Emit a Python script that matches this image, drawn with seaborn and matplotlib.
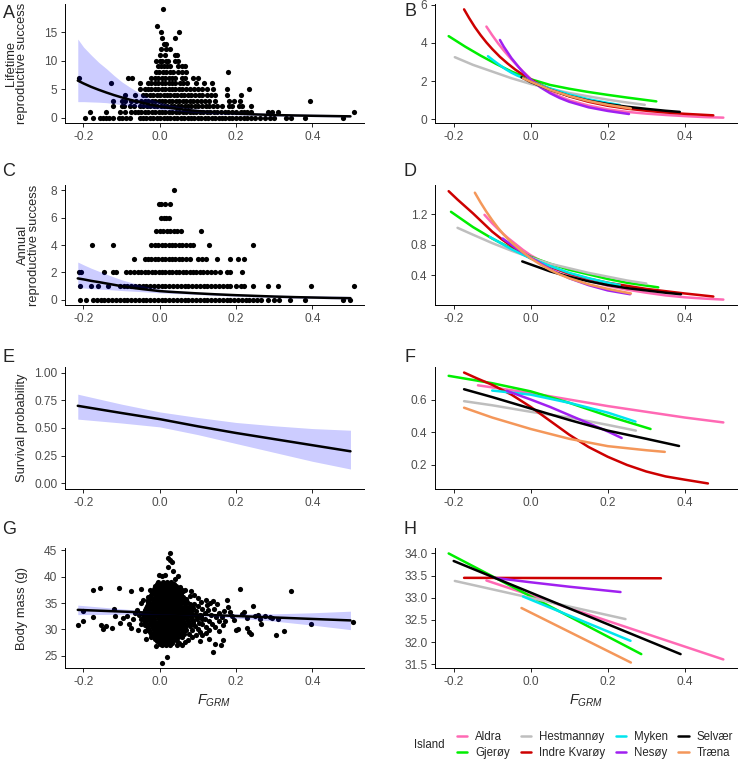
import matplotlib
matplotlib.use("Agg")
import matplotlib.pyplot as plt
from matplotlib.lines import Line2D
from matplotlib.ticker import FormatStrFormatter
import numpy as np
import pandas as pd
import seaborn as sns

sns.set_theme(style="ticks")
plt.rcParams["font.family"] = ["Liberation Sans", "DejaVu Sans"]
plt.rcParams["mathtext.fontset"] = "custom"
plt.rcParams["mathtext.rm"] = "Liberation Sans"
plt.rcParams["mathtext.it"] = "Liberation Sans:italic"

# ---------------- data ----------------
island_names = ["Aldra", "Gjerøy", "Hestmannøy", "Indre Kvarøy",
                "Myken", "Nesøy", "Selvær", "Træna"]
island_colors = ["#FF69B4", "#00EE00", "#BEBEBE", "#CD0000",
                 "#00E5EE", "#A020F0", "#000000", "#F4975A"]

# A: lifetime reproductive success, (count, F values)
lrs_rows = [
    (19, [0.009]),
    (16, [-0.006]),
    (15, [0.003, 0.05]),
    (14, [0.006, 0.039]),
    (13, [0.011, 0.017]),
    (12, [0.004, 0.016, 0.026]),
    (11, [0.0, 0.013, 0.039, 0.045]),
    (10, [-0.009, 0.0, 0.007, 0.016, 0.022, 0.039, 0.048]),
    (9, [-0.004, 0.003, 0.011, 0.018, 0.026, 0.048, 0.057, 0.066]),
    (8, [-0.009, -0.001, 0.008, 0.017, 0.026, 0.035, 0.048, 0.057, 0.068, 0.18]),
    (7, [-0.213, -0.083, -0.074, -0.022, -0.013, -0.004, 0.005, 0.014, 0.023,
         0.032, 0.041, 0.057, 0.066, 0.086, 0.1]),
    (6, [-0.129, -0.053, -0.031, -0.022, -0.013, -0.004, 0.005, 0.014, 0.023,
         0.032, 0.041, 0.053, 0.062, 0.071, 0.096, 0.115, 0.136]),
    (5, [-0.053, -0.04, -0.031, -0.022, -0.013, -0.004, 0.005, 0.014, 0.023,
         0.032, 0.041, 0.05, 0.059, 0.068, 0.079, 0.09, 0.1, 0.112, 0.125,
         0.14, 0.175, 0.235]),
    (4, [-0.092, -0.066, -0.044, -0.035, -0.026, -0.017, -0.008, 0.001, 0.01,
         0.019, 0.028, 0.037, 0.046, 0.055, 0.064, 0.073, 0.082, 0.092, 0.102,
         0.112, 0.123, 0.135, 0.146, 0.175, 0.214]),
    (3, [-0.123, -0.1, -0.092, -0.075, -0.062, -0.048, -0.039, -0.03, -0.021,
         -0.012, -0.003, 0.006, 0.015, 0.024, 0.033, 0.042, 0.051, 0.06, 0.069,
         0.078, 0.088, 0.098, 0.108, 0.118, 0.13, 0.145, 0.182, 0.195, 0.21,
         0.395]),
    (2, [-0.123, -0.1, -0.095, -0.078, -0.068, -0.052, -0.043, -0.034, -0.025,
         -0.016, -0.007, 0.002, 0.011, 0.02, 0.029, 0.038, 0.047, 0.056, 0.065,
         0.074, 0.083, 0.092, 0.101, 0.11, 0.12, 0.13, 0.14, 0.15, 0.162,
         0.182, 0.19, 0.208, 0.215, 0.24]),
    (1, [-0.184, -0.14, -0.105, -0.092, -0.075, -0.066, -0.057, -0.048, -0.039,
         -0.03, -0.021, -0.012, -0.003, 0.006, 0.015, 0.024, 0.033, 0.042,
         0.051, 0.06, 0.069, 0.078, 0.087, 0.096, 0.105, 0.114, 0.123, 0.132,
         0.141, 0.15, 0.16, 0.17, 0.18, 0.19, 0.2, 0.212, 0.22, 0.23, 0.24,
         0.284, 0.293, 0.31, 0.508]),
    (0, [-0.197, -0.175, -0.158, -0.15, -0.142, -0.133, -0.123, -0.108, -0.1,
         -0.088, -0.079, -0.053, -0.044, -0.035, -0.026, -0.017, -0.008, 0.001,
         0.01, 0.019, 0.028, 0.037, 0.046, 0.055, 0.064, 0.073, 0.082, 0.091,
         0.1, 0.109, 0.118, 0.127, 0.136, 0.145, 0.154, 0.163, 0.172, 0.181,
         0.19, 0.2, 0.21, 0.22, 0.23, 0.24, 0.25, 0.262, 0.275, 0.29, 0.3,
         0.33, 0.345, 0.38, 0.48]),
]

# C: annual reproductive success, (count, F values)
ars_rows = [
    (8, [0.038]),
    (7, [-0.002, 0.004, 0.013, 0.028]),
    (6, [0.004, 0.01, 0.017, 0.024]),
    (5, [-0.009, 0.0, 0.009, 0.018, 0.027, 0.036, 0.045, 0.055, 0.107]),
    (4, [-0.177, -0.123, -0.022, -0.013, -0.004, 0.005, 0.014, 0.023, 0.032,
         0.041, 0.05, 0.059, 0.07, 0.08, 0.088, 0.13, 0.245]),
    (3, [-0.067, -0.04, -0.031, -0.022, -0.013, -0.004, 0.005, 0.014, 0.023,
         0.032, 0.041, 0.05, 0.059, 0.068, 0.078, 0.1, 0.11, 0.12, 0.15,
         0.185, 0.205, 0.222]),
    (2, [-0.213, -0.206, -0.145, -0.123, -0.114, -0.088, -0.078, -0.068,
         -0.058, -0.048, -0.039, -0.03, -0.021, -0.012, -0.003, 0.006, 0.015,
         0.024, 0.033, 0.042, 0.051, 0.06, 0.069, 0.078, 0.087, 0.096, 0.105,
         0.114, 0.124, 0.134, 0.146, 0.158, 0.175, 0.184, 0.215]),
    (1, [-0.21, -0.18, -0.162, -0.136, -0.105, -0.095, -0.085, -0.075, -0.065,
         -0.055, -0.045, -0.035, -0.025, -0.015, -0.005, 0.005, 0.015, 0.025,
         0.035, 0.045, 0.055, 0.065, 0.075, 0.085, 0.095, 0.105, 0.115, 0.125,
         0.135, 0.145, 0.155, 0.165, 0.175, 0.185, 0.2, 0.212, 0.222, 0.245,
         0.285, 0.31, 0.397, 0.508]),
    (0, [-0.21, -0.193, -0.175, -0.165, -0.155, -0.145, -0.135, -0.125,
         -0.115, -0.105, -0.095, -0.085, -0.075, -0.065, -0.055, -0.045,
         -0.035, -0.025, -0.015, -0.005, 0.005, 0.015, 0.025, 0.035, 0.045,
         0.055, 0.065, 0.075, 0.085, 0.095, 0.105, 0.115, 0.125, 0.135, 0.145,
         0.155, 0.165, 0.175, 0.185, 0.195, 0.205, 0.215, 0.225, 0.235, 0.245,
         0.255, 0.265, 0.285, 0.3, 0.312, 0.342, 0.38, 0.48, 0.5]),
]

# G: body mass, scattered birds (F, g)
mass_pts = [
    (-0.215, 30.9), (-0.2, 31.5), (-0.2, 33.4), (-0.176, 37.5), (-0.176, 32.4),
    (-0.158, 37.9), (-0.153, 30.9), (-0.148, 30.0), (-0.14, 30.6), (-0.126, 30.3),
    (-0.12, 33.8), (-0.117, 32.6), (-0.108, 37.8), (-0.105, 31.3), (-0.096, 32.1),
    (-0.087, 32.5), (-0.08, 31.0), (-0.075, 37.3), (-0.075, 30.3), (-0.07, 31.9),
    (-0.065, 33.2), (-0.06, 33.7), (-0.058, 29.9), (-0.055, 32.8), (-0.05, 32.0),
    (-0.05, 31.0), (-0.048, 37.7), (-0.048, 35.0), (-0.044, 35.6), (-0.04, 29.6),
    (-0.035, 28.2), (-0.028, 34.6), (-0.022, 28.6), (-0.013, 35.6), (-0.009, 36.9),
    (-0.01, 26.9), (0.0, 27.2), (0.005, 23.7), (0.019, 24.8), (-0.045, 33.0),
    (-0.042, 31.8), (-0.038, 30.8), (-0.032, 36.2), (-0.03, 29.9), (-0.025, 37.5),
    (-0.002, 40.4), (0.005, 40.1), (0.013, 40.4), (0.022, 43.6), (0.026, 44.4),
    (0.028, 43.1), (0.032, 42.8), (0.022, 41.8), (0.035, 41.0), (0.048, 40.1),
    (0.04, 39.6), (0.053, 38.0), (0.058, 37.5), (0.062, 37.2), (0.066, 37.4),
    (0.083, 37.3), (0.044, 27.0), (0.05, 27.4), (0.058, 27.1), (0.066, 27.6),
    (0.075, 28.0), (0.085, 28.6), (0.105, 27.8), (0.11, 29.0), (0.13, 28.2),
    (0.14, 25.7), (0.145, 27.3), (0.16, 27.0), (0.07, 35.8), (0.078, 36.4),
    (0.09, 36.6), (0.1, 36.0), (0.108, 35.2), (0.12, 35.5), (0.125, 34.6),
    (0.132, 35.0), (0.14, 35.3), (0.15, 34.8), (0.09, 34.9), (0.1, 34.4),
    (0.112, 33.9), (0.118, 33.2), (0.126, 33.6), (0.135, 32.8), (0.142, 33.8),
    (0.148, 32.4), (0.155, 33.1), (0.162, 32.3), (0.168, 33.5), (0.108, 32.6),
    (0.118, 31.9), (0.128, 31.5), (0.138, 31.0), (0.146, 30.5), (0.155, 31.6),
    (0.165, 30.8), (0.172, 31.5), (0.112, 31.0), (0.122, 30.5), (0.13, 29.9),
    (0.1, 30.1), (0.105, 29.5), (0.12, 29.4), (0.095, 28.9), (0.155, 29.6),
    (0.165, 28.0), (0.175, 35.6), (0.18, 34.2), (0.185, 33.3), (0.19, 32.5),
    (0.195, 31.8), (0.2, 29.8), (0.205, 30.1), (0.21, 37.6), (0.215, 32.9),
    (0.22, 33.3), (0.228, 32.2), (0.23, 30.3), (0.235, 29.5), (0.24, 29.2),
    (0.245, 34.4), (0.25, 32.6), (0.258, 32.8), (0.262, 32.0), (0.265, 31.0),
    (0.275, 32.5), (0.29, 32.4), (0.295, 32.1), (0.31, 31.9), (0.306, 29.0),
    (0.325, 29.6), (0.345, 37.2), (0.397, 31.0), (0.506, 31.4),
]
# G: dense core of birds, (g, F values)
mass_core_rows = [
    (39.0, [-0.005, 0.008, 0.02, 0.03]),
    (38.65, [-0.008, 0.004, 0.015, 0.026, 0.037]),
    (38.3, [-0.012, 0.0, 0.01, 0.02, 0.032, 0.042]),
    (37.95, [-0.012, 0.0, 0.011, 0.021, 0.032, 0.043]),
    (37.6, [-0.015, -0.005, 0.006, 0.016, 0.027, 0.037, 0.048]),
    (37.25, [-0.018, -0.006, 0.005, 0.016, 0.027, 0.038, 0.05]),
    (36.9, [-0.02, -0.008, 0.003, 0.013, 0.024, 0.034, 0.045, 0.056]),
    (36.55, [-0.022, -0.01, 0.001, 0.012, 0.022, 0.033, 0.044, 0.056]),
    (36.2, [-0.025, -0.013, -0.002, 0.009, 0.019, 0.03, 0.04, 0.051, 0.062]),
    (35.85, [-0.027, -0.015, -0.003, 0.008, 0.019, 0.03, 0.04, 0.051, 0.063]),
    (35.5, [-0.03, -0.018, -0.006, 0.005, 0.015, 0.025, 0.036, 0.047, 0.058, 0.07]),
    (35.15, [-0.031, -0.019, -0.007, 0.004, 0.014, 0.025, 0.036, 0.047, 0.059, 0.071]),
    (34.8, [-0.032, -0.02, -0.009, 0.002, 0.012, 0.022, 0.033, 0.043, 0.054,
            0.066, 0.078]),
    (34.45, [-0.034, -0.022, -0.01, 0.001, 0.011, 0.021, 0.032, 0.043, 0.054,
             0.066, 0.079]),
    (34.1, [-0.036, -0.024, -0.012, -0.001, 0.009, 0.019, 0.03, 0.04, 0.05,
            0.061, 0.073, 0.086]),
    (33.75, [-0.038, -0.026, -0.014, -0.002, 0.008, 0.018, 0.029, 0.039, 0.05,
             0.062, 0.075]),
    (33.4, [-0.04, -0.028, -0.016, -0.004, 0.006, 0.016, 0.027, 0.037, 0.047,
            0.058, 0.07, 0.082, 0.095]),
    (33.05, [-0.041, -0.029, -0.017, -0.005, 0.005, 0.015, 0.026, 0.036, 0.047,
             0.058, 0.07, 0.083]),
    (32.7, [-0.042, -0.03, -0.018, -0.006, 0.004, 0.014, 0.024, 0.034, 0.045,
            0.056, 0.068, 0.08, 0.092, 0.105]),
    (32.35, [-0.041, -0.029, -0.017, -0.005, 0.005, 0.015, 0.026, 0.036, 0.047,
             0.058, 0.07, 0.083, 0.097]),
    (32.0, [-0.04, -0.027, -0.015, -0.003, 0.007, 0.017, 0.027, 0.037, 0.048,
            0.059, 0.071, 0.084, 0.098, 0.112]),
    (31.65, [-0.039, -0.026, -0.014, -0.002, 0.008, 0.018, 0.028, 0.038, 0.049,
             0.06, 0.073, 0.086]),
    (31.3, [-0.038, -0.025, -0.013, -0.002, 0.008, 0.018, 0.028, 0.039, 0.05,
            0.062, 0.075, 0.088, 0.102]),
    (30.95, [-0.036, -0.023, -0.011, -0.001, 0.009, 0.019, 0.029, 0.04, 0.051,
             0.063, 0.076]),
    (30.6, [-0.034, -0.021, -0.009, 0.001, 0.011, 0.021, 0.031, 0.042, 0.053,
            0.065, 0.078, 0.092]),
    (30.25, [-0.031, -0.018, -0.007, 0.003, 0.013, 0.023, 0.033, 0.044, 0.055,
             0.067]),
    (29.9, [-0.028, -0.016, -0.005, 0.005, 0.015, 0.025, 0.035, 0.046, 0.057,
            0.07, 0.084]),
    (29.55, [-0.025, -0.013, -0.002, 0.008, 0.018, 0.028, 0.038, 0.049, 0.06]),
    (29.2, [-0.022, -0.01, 0.0, 0.01, 0.02, 0.03, 0.04, 0.051, 0.063, 0.076]),
    (28.85, [-0.018, -0.007, 0.003, 0.013, 0.023, 0.033, 0.043, 0.054]),
    (28.5, [-0.015, -0.004, 0.006, 0.016, 0.026, 0.036, 0.047, 0.058]),
    (28.15, [-0.012, -0.001, 0.009, 0.019, 0.029, 0.039]),
    (27.8, [-0.008, 0.003, 0.013, 0.023, 0.033, 0.044]),
    (27.45, [0.0, 0.011, 0.022, 0.033]),
    (27.1, [0.005, 0.016, 0.027]),
]

# population-level model fits (F grid, fit, lower, upper)
count_fit_f = [-0.215, -0.2, -0.18, -0.16, -0.14, -0.12, -0.1, -0.075, -0.05, -0.025,
               0.0, 0.025, 0.05, 0.075, 0.1, 0.15, 0.2, 0.25, 0.3, 0.35, 0.4, 0.45, 0.5]
lrs_fit = [6.5, 6.0, 5.4, 4.88, 4.4, 3.95, 3.55, 3.08, 2.66, 2.28, 1.95, 1.7, 1.5,
           1.32, 1.15, 0.9, 0.7, 0.56, 0.45, 0.38, 0.32, 0.27, 0.22]
lrs_lo = [2.8, 2.8, 2.75, 2.7, 2.62, 2.45, 2.25, 2.05, 1.85, 1.65, 1.45, 1.3, 1.15,
          1.0, 0.88, 0.66, 0.48, 0.36, 0.28, 0.22, 0.17, 0.13, 0.1]
lrs_hi = [13.8, 12.4, 11.0, 9.7, 8.6, 7.4, 6.3, 5.2, 4.2, 3.3, 2.7, 2.25, 1.95, 1.7,
          1.5, 1.2, 1.0, 0.86, 0.75, 0.67, 0.6, 0.55, 0.5]

ars_fit = [1.55, 1.48, 1.37, 1.28, 1.18, 1.08, 0.98, 0.87, 0.78, 0.7, 0.62, 0.57,
           0.53, 0.49, 0.45, 0.38, 0.32, 0.27, 0.22, 0.18, 0.15, 0.12, 0.1]
ars_lo = [0.87, 0.85, 0.8, 0.77, 0.74, 0.7, 0.66, 0.62, 0.58, 0.54, 0.49, 0.46, 0.43,
          0.4, 0.37, 0.3, 0.24, 0.19, 0.15, 0.11, 0.08, 0.06, 0.04]
ars_hi = [2.75, 2.55, 2.3, 2.08, 1.86, 1.65, 1.45, 1.25, 1.05, 0.9, 0.78, 0.7, 0.64,
          0.59, 0.55, 0.48, 0.42, 0.37, 0.33, 0.3, 0.28, 0.26, 0.24]

surv_fit_f = [-0.215, -0.1, 0.0, 0.1, 0.2, 0.3, 0.4, 0.5]
surv_fit = [0.70, 0.635, 0.58, 0.515, 0.455, 0.4, 0.345, 0.29]
surv_lo = [0.58, 0.545, 0.51, 0.44, 0.36, 0.28, 0.2, 0.13]
surv_hi = [0.805, 0.715, 0.645, 0.595, 0.55, 0.52, 0.495, 0.48]

mass_fit_f = [-0.215, -0.1, 0.0, 0.05, 0.1, 0.2, 0.3, 0.4, 0.5]
mass_fit = [33.7, 33.38, 33.1, 32.96, 32.82, 32.54, 32.26, 31.98, 31.7]
mass_lo = [32.8, 32.86, 32.9, 32.8, 32.62, 32.13, 31.57, 30.81, 29.95]
mass_hi = [34.6, 33.9, 33.3, 33.12, 33.02, 32.95, 32.95, 33.15, 33.45]

# island-specific predictions: island -> (F values, predicted values)
lrs_island = {
    "Aldra": ([-0.115, -0.1, -0.085, -0.07, -0.055, -0.04, -0.02, 0.0, 0.025, 0.05,
               0.075, 0.1, 0.15, 0.2, 0.25, 0.3, 0.35, 0.4, 0.45, 0.5],
              [4.85, 4.4, 3.98, 3.6, 3.25, 2.92, 2.5, 2.12, 1.75, 1.45, 1.2, 1.0,
               0.72, 0.52, 0.39, 0.3, 0.23, 0.17, 0.12, 0.09]),
    "Gjerøy": ([-0.213, -0.17, -0.13, -0.09, -0.05, 0.0, 0.05, 0.1, 0.15, 0.2, 0.25, 0.326],
               [4.35, 3.8, 3.33, 2.9, 2.5, 2.1, 1.8, 1.6, 1.43, 1.28, 1.14, 0.94]),
    "Hestmannøy": ([-0.197, -0.15, -0.1, -0.05, 0.0, 0.05, 0.1, 0.15, 0.2, 0.25, 0.296],
                   [3.25, 2.85, 2.5, 2.15, 1.85, 1.6, 1.38, 1.2, 1.03, 0.88, 0.76]),
    "Indre Kvarøy": ([-0.173, -0.16, -0.145, -0.13, -0.115, -0.1, -0.08, -0.06, -0.04,
                      -0.02, 0.0, 0.025, 0.05, 0.075, 0.1, 0.15, 0.2, 0.25, 0.3, 0.35,
                      0.4, 0.474],
                     [5.75, 5.3, 4.82, 4.4, 4.02, 3.68, 3.27, 2.92, 2.6, 2.33, 2.08,
                      1.82, 1.58, 1.38, 1.2, 0.92, 0.71, 0.56, 0.45, 0.36, 0.29, 0.21]),
    "Myken": ([-0.111, -0.095, -0.08, -0.065, -0.05, -0.035, -0.02, 0.0, 0.025, 0.05,
               0.1, 0.15, 0.2, 0.231],
              [3.3, 3.05, 2.83, 2.62, 2.44, 2.29, 2.17, 2.02, 1.8, 1.62, 1.3, 1.05,
               0.86, 0.75]),
    "Nesøy": ([-0.08, -0.07, -0.06, -0.05, -0.04, -0.03, -0.02, -0.01, 0.0, 0.025,
               0.05, 0.075, 0.1, 0.15, 0.2, 0.255],
              [4.15, 3.8, 3.5, 3.2, 2.95, 2.7, 2.48, 2.27, 2.08, 1.68, 1.37, 1.12,
               0.92, 0.63, 0.44, 0.28]),
    "Selvær": ([-0.024, 0.0, 0.05, 0.1, 0.15, 0.2, 0.25, 0.3, 0.35, 0.387],
               [2.2, 1.95, 1.55, 1.22, 0.98, 0.8, 0.66, 0.55, 0.45, 0.39]),
    "Træna": ([-0.02, 0.0, 0.05, 0.1, 0.15, 0.2, 0.26],
              [2.15, 1.97, 1.55, 1.22, 0.96, 0.76, 0.57]),
}
ars_island = {
    "Aldra": ([-0.12, -0.1, -0.08, -0.06, -0.04, -0.02, 0.0, 0.025, 0.05, 0.075, 0.1,
               0.15, 0.2, 0.25, 0.3, 0.35, 0.4, 0.45, 0.5],
              [1.19, 1.08, 0.98, 0.89, 0.81, 0.73, 0.66, 0.59, 0.52, 0.46, 0.41,
               0.33, 0.26, 0.21, 0.17, 0.135, 0.11, 0.093, 0.08]),
    "Gjerøy": ([-0.207, -0.15, -0.1, -0.05, 0.0, 0.05, 0.1, 0.15, 0.2, 0.25, 0.331],
               [1.23, 1.03, 0.88, 0.75, 0.64, 0.55, 0.47, 0.41, 0.35, 0.3, 0.24]),
    "Hestmannøy": ([-0.19, -0.15, -0.1, -0.05, 0.0, 0.05, 0.1, 0.15, 0.2, 0.25, 0.3],
                   [1.02, 0.93, 0.82, 0.72, 0.63, 0.55, 0.49, 0.43, 0.38, 0.33, 0.29]),
    "Indre Kvarøy": ([-0.213, -0.19, -0.17, -0.15, -0.125, -0.1, -0.075, -0.05, -0.025,
                      0.0, 0.05, 0.1, 0.15, 0.2, 0.25, 0.3, 0.35, 0.4, 0.474],
                     [1.5, 1.39, 1.3, 1.21, 1.09, 0.97, 0.87, 0.78, 0.69, 0.62, 0.51,
                      0.42, 0.355, 0.3, 0.26, 0.22, 0.19, 0.16, 0.12]),
    "Myken": ([-0.106, -0.05, 0.0, 0.05, 0.1, 0.15, 0.2, 0.231],
              [0.9, 0.74, 0.62, 0.52, 0.43, 0.36, 0.3, 0.27]),
    "Nesøy": ([-0.073, -0.04, 0.0, 0.05, 0.1, 0.15, 0.2, 0.258],
              [0.88, 0.76, 0.63, 0.48, 0.36, 0.27, 0.2, 0.15]),
    "Selvær": ([-0.022, 0.0, 0.05, 0.1, 0.15, 0.2, 0.25, 0.3, 0.35, 0.39],
               [0.58, 0.54, 0.45, 0.38, 0.32, 0.27, 0.23, 0.2, 0.17, 0.15]),
    "Træna": ([-0.145, -0.13, -0.115, -0.1, -0.085, -0.07, -0.05, -0.025, 0.0, 0.025,
               0.05, 0.075, 0.1, 0.15, 0.2, 0.26],
              [1.48, 1.35, 1.23, 1.12, 1.02, 0.93, 0.83, 0.72, 0.62, 0.54, 0.47,
               0.41, 0.36, 0.28, 0.22, 0.16]),
}
surv_island = {
    "Aldra": ([-0.137, 0.0, 0.1, 0.2, 0.3, 0.4, 0.5],
              [0.687, 0.64, 0.6, 0.56, 0.525, 0.49, 0.46]),
    "Gjerøy": ([-0.213, -0.1, 0.0, 0.1, 0.2, 0.311],
               [0.745, 0.7, 0.65, 0.58, 0.5, 0.42]),
    "Hestmannøy": ([-0.173, -0.1, 0.0, 0.1, 0.2, 0.273],
                   [0.59, 0.565, 0.525, 0.49, 0.445, 0.41]),
    "Indre Kvarøy": ([-0.173, -0.14, -0.1, -0.05, 0.0, 0.05, 0.1, 0.15, 0.2, 0.25, 0.3,
                      0.35, 0.4, 0.46],
                     [0.765, 0.73, 0.69, 0.63, 0.555, 0.47, 0.385, 0.31, 0.25, 0.2,
                      0.16, 0.13, 0.11, 0.087]),
    "Myken": ([-0.1, 0.0, 0.1, 0.2, 0.272],
              [0.655, 0.63, 0.58, 0.52, 0.465]),
    "Nesøy": ([-0.062, 0.0, 0.05, 0.1, 0.15, 0.2, 0.236],
              [0.653, 0.6, 0.555, 0.505, 0.455, 0.405, 0.365]),
    "Selvær": ([-0.173, -0.1, 0.0, 0.1, 0.2, 0.3, 0.385],
               [0.663, 0.615, 0.545, 0.475, 0.41, 0.36, 0.316]),
    "Træna": ([-0.173, -0.1, 0.0, 0.1, 0.2, 0.3, 0.348],
              [0.55, 0.49, 0.42, 0.36, 0.315, 0.29, 0.28]),
}
mass_island = {
    "Aldra": ([-0.115, 0.5], [33.39, 31.61]),
    "Gjerøy": ([-0.213, 0.287], [34.0, 31.73]),
    "Hestmannøy": ([-0.197, 0.246], [33.38, 32.52]),
    "Indre Kvarøy": ([-0.173, 0.338], [33.45, 33.44]),
    "Myken": ([-0.02, 0.259], [33.03, 32.03]),
    "Nesøy": ([-0.094, 0.0, 0.1, 0.233], [33.45, 33.35, 33.25, 33.13]),
    "Selvær": ([-0.2, 0.389], [33.83, 31.73]),
    "Træna": ([-0.024, 0.26], [32.77, 31.54]),
}

# ---------------- layout ----------------
W, H = 739, 762
fig = plt.figure(figsize=(W / 100, H / 100), dpi=100)


def panel(left, top, right, bottom):
    return fig.add_axes([left / W, 1 - bottom / H, (right - left) / W, (bottom - top) / H])


rows_px = [(4, 123), (185, 305), (367, 489), (548, 668)]
left_ax = [panel(65, t, 364, b) for t, b in rows_px]
right_ax = [panel(435, t, 737, b) for t, b in rows_px]

TICK = "#4D4D4D"
FS_TICK = 8.6
FS_TITLE = 9.3
FS_LEG = 8.3
DOT = 14


def rows_frame(rows, name):
    return pd.DataFrame([(x, v) for v, xs in rows for x in xs], columns=["F", name])


def island_frame(curves):
    recs = [(isl, x, y) for isl, (xs, ys) in curves.items() for x, y in zip(xs, ys)]
    return pd.DataFrame(recs, columns=["Island", "F", "y"])


def pop_panel(ax, pts, ycol, f, fit, lo, hi):
    if pts is not None:
        sns.scatterplot(data=pts, x="F", y=ycol, ax=ax, color="black", s=DOT,
                        linewidth=0, legend=False)
    ax.fill_between(f, lo, hi, color="blue", alpha=0.2, linewidth=0)
    sns.lineplot(x=f, y=fit, ax=ax, color="black", lw=1.8, sort=False)


def island_panel(ax, curves):
    df = island_frame(curves)
    sns.lineplot(data=df, x="F", y="y", hue="Island", hue_order=island_names,
                 palette=island_colors, estimator=None, lw=1.8, legend=False, ax=ax)


# A
pop_panel(left_ax[0], rows_frame(lrs_rows, "LRS"), "LRS", count_fit_f, lrs_fit, lrs_lo, lrs_hi)
# C
pop_panel(left_ax[1], rows_frame(ars_rows, "ARS"), "ARS", count_fit_f, ars_fit, ars_lo, ars_hi)
# E
pop_panel(left_ax[2], None, None, surv_fit_f, surv_fit, surv_lo, surv_hi)
# G
core = pd.DataFrame([(x, m) for m, xs in mass_core_rows for x in xs], columns=["F", "mass"])
mass_df = pd.concat([pd.DataFrame(mass_pts, columns=["F", "mass"]), core], ignore_index=True)
pop_panel(left_ax[3], mass_df, "mass", mass_fit_f, mass_fit, mass_lo, mass_hi)

island_panel(right_ax[0], lrs_island)
island_panel(right_ax[1], ars_island)
island_panel(right_ax[2], surv_island)
island_panel(right_ax[3], mass_island)

ylims = [(-0.95, 19.95), (-0.4, 8.4), (-0.05, 1.05), (22.67, 45.44),
         (-0.19, 6.03), (0.009, 1.581), (0.053, 0.799), (31.417, 34.123)]
yticks = [[0, 5, 10, 15], [0, 2, 4, 6, 8], [0, 0.25, 0.5, 0.75, 1.0], [25, 30, 35, 40, 45],
          [0, 2, 4, 6], [0.4, 0.8, 1.2], [0.2, 0.4, 0.6], [31.5, 32.0, 32.5, 33.0, 33.5, 34.0]]
yfmts = ["%d", "%d", "%.2f", "%d", "%d", "%.1f", "%.1f", "%.1f"]

for ax, yl, yt, yf in zip(left_ax + right_ax, ylims, yticks, yfmts):
    sns.despine(ax=ax)
    ax.set_xlim(-0.2485, 0.5355)
    ax.set_ylim(*yl)
    ax.set_xticks([-0.2, 0.0, 0.2, 0.4])
    ax.set_yticks(yt)
    ax.xaxis.set_major_formatter(FormatStrFormatter("%.1f"))
    ax.yaxis.set_major_formatter(FormatStrFormatter(yf))
    ax.tick_params(length=3, width=0.6, color="black", labelcolor=TICK,
                   labelsize=FS_TICK, pad=2.5)
    for s in ["left", "bottom"]:
        ax.spines[s].set_color("black")
        ax.spines[s].set_linewidth(0.7)
    ax.set_xlabel("")
    ax.set_ylabel("")
    ax.grid(False)


def ftext(x, y, s, **kw):
    fig.text(x / W, 1 - y / H, s, **kw)


# y titles (each line of the two-line titles as its own text)
ytitle = dict(rotation=90, ha="center", va="center", fontsize=FS_TITLE)
ftext(11, 63, "Lifetime", **ytitle)
ftext(22, 63, "reproductive success", **ytitle)
ftext(23, 245, "Annual", **ytitle)
ftext(34, 245, "reproductive success", **ytitle)
ftext(22, 428, "Survival probability", **ytitle)
ftext(22, 608, "Body mass (g)", **ytitle)

# x titles
ftext(214, 701, r"$F_{GRM}$", ha="center", va="center", fontsize=FS_TITLE + 1)
ftext(586, 701, r"$F_{GRM}$", ha="center", va="center", fontsize=FS_TITLE + 1)

# panel letters
for lab, (x, y) in zip("ABCDEFGH", [(9, 13), (410, 12), (9, 171), (410, 171),
                                    (9, 357), (410, 357), (9, 530), (410, 530)]):
    ftext(x, y, lab, ha="center", va="center", fontsize=13)

# legend
handles = [Line2D([], [], color=c, lw=1.8) for c in island_colors]
fig.legend(handles, island_names, ncol=4, loc="center left",
           bbox_to_anchor=(457 / W, 1 - 745 / H), frameon=False, fontsize=FS_LEG,
           handlelength=0.9, handletextpad=0.7, columnspacing=0.9,
           labelspacing=0.3, borderpad=0, borderaxespad=0)
ftext(429, 745, "Island", ha="center", va="center", fontsize=FS_LEG)

fig.savefig("out.png", dpi=100)
